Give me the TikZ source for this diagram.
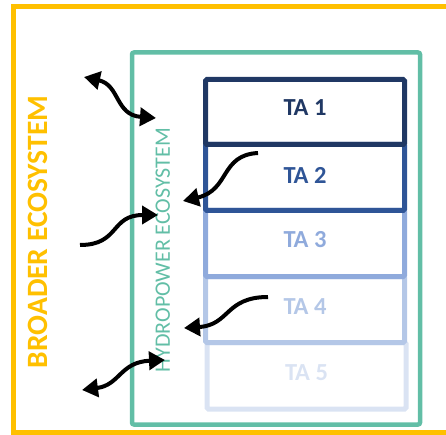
\documentclass[tikz,border=0pt]{standalone}
\usepackage{fontspec}
\setmainfont{Carlito}
\usetikzlibrary{arrows.meta}
\definecolor{ayellow}{HTML}{FFC000}
\definecolor{agreen}{RGB}{98,190,166}
\definecolor{taA}{HTML}{203864}
\definecolor{taB}{HTML}{2F5597}
\definecolor{taC}{HTML}{8FAADC}
\definecolor{taD}{HTML}{B4C7E7}
\definecolor{taE}{HTML}{DAE3F3}
\tikzset{
  tabox/.style={draw=#1, line width=5pt, rounded corners=1.5pt, minimum width=199pt, inner sep=0pt, outer sep=0pt},
  talabel/.style={text=#1, font=\bfseries\fontsize{24.5}{24.5}\selectfont, inner sep=0pt},
  flow/.style={line width=4pt, draw=black, -{Triangle[length=16pt,width=18pt]}},
  flowboth/.style={line width=4pt, draw=black, {Triangle[length=16pt,width=18pt]}-{Triangle[length=16pt,width=18pt]}},
}
\begin{document}
\begin{tikzpicture}[x=1pt,y=-1pt]
\useasboundingbox (0,0) rectangle (446,435);
% outer broader ecosystem frame
\draw[ayellow, line width=5pt] (13.5,7) rectangle (448,432);
% hydropower ecosystem frame
\draw[agreen, line width=4.5pt, rounded corners=2pt] (132,52.5) rectangle (420,424.5);
% TA boxes (back to front)
\node[tabox=taE, minimum height=66.5pt] (b5) at (306.5,375.75) {};
\node[tabox=taD, minimum height=66pt] (b4) at (305,309.5) {};
\node[tabox=taC, minimum height=66pt] (b3) at (305,243.5) {};
\node[tabox=taB, minimum height=66pt] (b2) at (305,177.5) {};
\node[tabox=taA, minimum height=65pt] (b1) at (305,112) {};
% labels
\node[talabel=taA] (t1) at (305,107.7) {TA 1};
\node[talabel=taB] (t2) at (305,175) {TA 2};
\node[talabel=taC] (t3) at (305,240) {TA 3};
\node[talabel=taD] (t4) at (305,307) {TA 4};
\node[talabel=taE] (t5) at (306.5,373) {TA 5};
\node[rotate=90, text=ayellow, font=\bfseries\fontsize{29.5}{29.5}\selectfont, inner sep=0pt] (broad) at (38,232) {BROADER ECOSYSTEM};
\node[rotate=90, text=agreen, font=\fontsize{22}{22}\selectfont, inner sep=0pt] (hydro) at (162.7,250) {HYDROPOWER ECOSYSTEM};
% arrow end points
\coordinate (a1s) at (84,77);
\coordinate (a1e) at (156,118);
\coordinate (a2s) at (258,153);
\coordinate (a2e) at (183,201);
\coordinate (a3s) at (80,245);
\coordinate (a3e) at (158,215);
\coordinate (a4s) at (268,297);
\coordinate (a4e) at (184,328);
\coordinate (a5s) at (82,390);
\coordinate (a5e) at (165,360);
% arrows
\draw[flowboth] (a1s) .. controls (120,85) and (115,115) .. (a1e);
\draw[flow] (a2s) .. controls (220,155) and (230,190) .. (a2e);
\draw[flow] (a3s) .. controls (120,245) and (110,215) .. (a3e);
\draw[flow] (a4s) .. controls (225,297) and (230,325) .. (a4e);
\draw[flowboth] (a5s) .. controls (120,385) and (120,362) .. (a5e);
\end{tikzpicture}
\end{document}
